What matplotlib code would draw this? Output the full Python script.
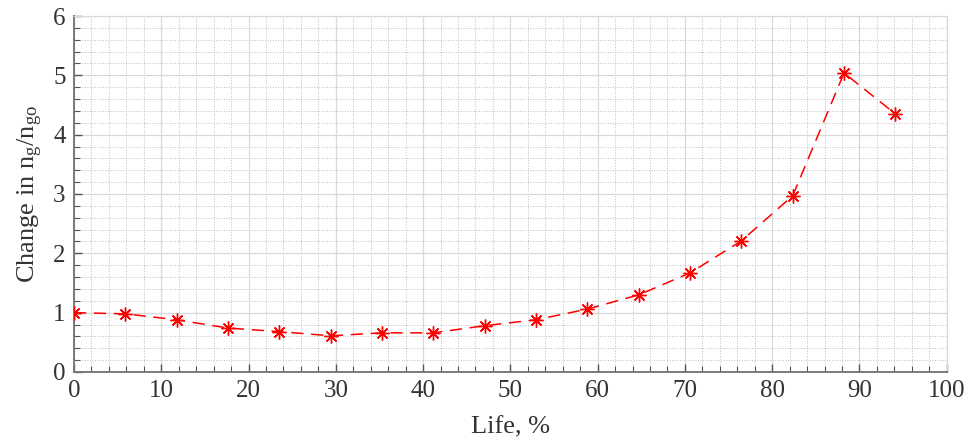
import matplotlib.pyplot as plt
import numpy as np
from matplotlib.ticker import MultipleLocator

plt.rcParams['font.family'] = ['Liberation Serif', 'DejaVu Serif']
plt.rcParams['mathtext.fontset'] = 'custom'
plt.rcParams['mathtext.rm'] = 'Liberation Serif'
plt.rcParams['mathtext.it'] = 'Liberation Serif'

life = np.arange(17) * 100 / 17
ratio = [1.00, 0.98, 0.88, 0.74, 0.68, 0.61, 0.66, 0.66, 0.78, 0.88,
         1.06, 1.30, 1.67, 2.21, 2.97, 5.04, 4.35]

fig = plt.figure(figsize=(9.69, 4.41), dpi=100)
ax = fig.add_axes([0.0764, 0.1565, 0.9006, 0.8072])

ax.plot(life, ratio, color='red', linestyle=(0, (8, 5)), linewidth=1.1, zorder=3)
ax.plot(life, ratio, color='red', linestyle='none', marker=(8, 2, 0),
        markersize=10, markeredgewidth=1.0, zorder=4)

ax.set_xlim(0, 100)
ax.set_ylim(0, 6)
ax.xaxis.set_major_locator(MultipleLocator(10))
ax.xaxis.set_minor_locator(MultipleLocator(2))
ax.yaxis.set_major_locator(MultipleLocator(1))
ax.yaxis.set_minor_locator(MultipleLocator(0.2))

ax.grid(which='major', color='#d9d9d9', linewidth=0.9)
ax.grid(which='minor', color='#bdbdbd', linestyle=':', linewidth=0.7)
ax.set_axisbelow(True)

for s in ['left', 'bottom']:
    ax.spines[s].set_color('#7a7a7a')
    ax.spines[s].set_linewidth(1.4)
for s in ['top', 'right']:
    ax.spines[s].set_color('#d9d9d9')
    ax.spines[s].set_linewidth(0.9)

ax.tick_params(which='both', direction='in', top=False, right=False,
               color='#555555', labelcolor='#333333', labelsize=18)
ax.tick_params(which='major', length=6, width=1, pad=6)
ax.tick_params(which='minor', length=4, width=0.8)

ax.set_xlabel('Life, %', fontsize=19, color='#333333', labelpad=10)
ax.set_ylabel(r'Change in n$_{\mathrm{g}}$/n$_{\mathrm{go}}$', fontsize=19,
              color='#333333', labelpad=6)

fig.savefig('out.png', dpi=100)
